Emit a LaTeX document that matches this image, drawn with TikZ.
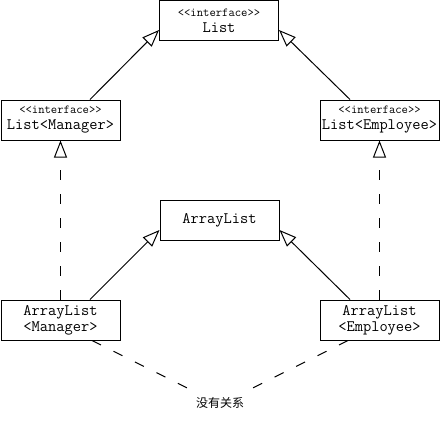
\documentclass[tikz,border=0pt]{standalone}
\usepackage{fontspec}
\newfontfamily\cjk{Noto Sans CJK SC}
\usetikzlibrary{arrows.meta}
\newcommand{\stereo}{{\fontsize{12.3}{13}\selectfont<<interface>>}}
\tikzset{
  cls/.style={draw,line width=1pt,minimum width=119pt,minimum height=40pt,
    inner sep=1pt,align=center,font=\ttfamily\fontsize{16}{16}\selectfont},
  realize/.style={line width=1pt,-{Triangle[open,length=17pt,width=13pt]}},
  dashline/.style={dash pattern=on 10pt off 14pt},
}
\begin{document}
\begin{tikzpicture}[x=1pt,y=-1pt]
	  \useasboundingbox (0,0) rectangle (441,421);
	  % interfaces
	  \node[cls] (list) at (219,20.5) {\stereo\\List};
	  \node[cls] (lm) at (60.5,120) {\stereo\\List<Manager>};
	  \node[cls] (le) at (379.5,120) {\stereo\\List<Employee>};
	  % classes
	  \node[cls] (al) at (219.5,220) {ArrayList};
	  \node[cls] (alm) at (60.5,320) {ArrayList\\<Manager>};
	  \node[cls] (ale) at (379.5,320) {ArrayList\\<Employee>};
	  \node[font=\cjk\fontsize{12}{14}\selectfont,inner xsep=6pt,inner ysep=8pt] (note) at (220,403) {没有关系};
	  \draw[realize] ([xshift=29.5pt]lm.north) -- ([yshift=-9.5pt]list.west);
	  \draw[realize] ([xshift=-29.5pt]le.north) -- ([yshift=-9.5pt]list.east);
	  \draw[realize,dashline] (alm.north) -- (lm.south);
	  \draw[realize,dashline] (ale.north) -- (le.south);
	  \draw[realize] ([xshift=29.5pt]alm.north) -- ([yshift=-10pt]al.west);
	  \draw[realize] ([xshift=-29.5pt]ale.north) -- ([yshift=-10pt]al.east);
	  \draw[line width=1pt,dashline] ([xshift=31.5pt]alm.south) -- (note.north west);
	  \draw[line width=1pt,dashline] ([xshift=-31.5pt]ale.south) -- (note.north east);
\end{tikzpicture}
\end{document}
